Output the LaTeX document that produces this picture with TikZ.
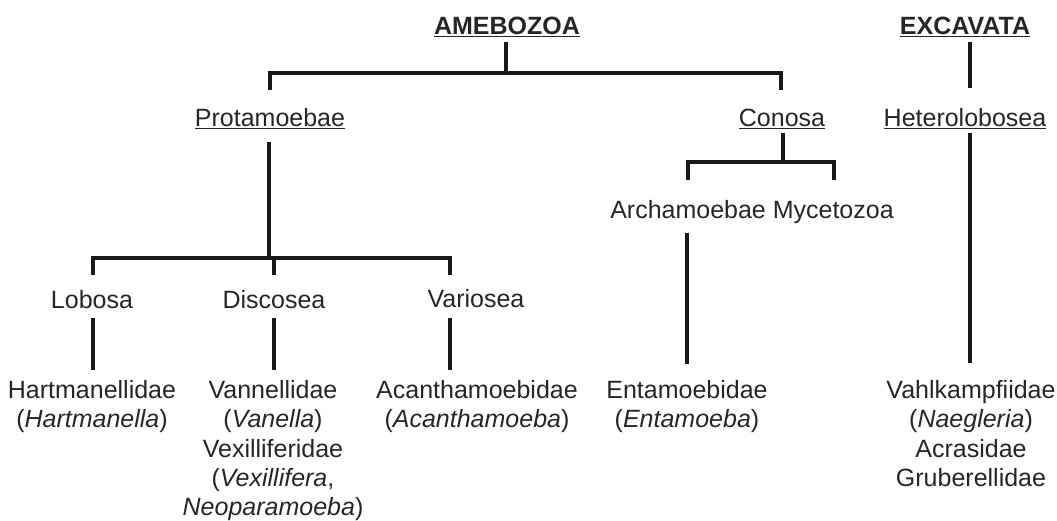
\documentclass[tikz,border=0pt]{standalone}
\usepackage{fontspec}
\setmainfont{Liberation Sans}
\begin{document}
\begin{tikzpicture}[x=0.75pt,y=-0.75pt,
  every node/.style={font=\fontsize{18.75}{22}\selectfont, text=black!85, inner sep=0pt},
  lbl/.style={anchor=base},
  leaf/.style={anchor=north, align=center},
  link/.style={draw=black!90, line width=2.6pt, line join=miter, line cap=butt}]
\useasboundingbox (0,0) rectangle (1057,521);
% labels
\node[lbl] (amebozoa) at (507,34.5) {\textbf{\underline{AMEBOZOA}}};
\node[lbl] (excavata) at (965,34.5) {\textbf{\underline{EXCAVATA}}};
\node[lbl] (protamoebae) at (270,126) {\underline{Protamoebae}};
\node[lbl] (conosa) at (782,126) {\underline{Conosa}};
\node[lbl] (hetero) at (965,126) {\underline{Heterolobosea}};
\node[lbl] (archmyc) at (752,218.5) {Archamoebae Mycetozoa};
\node[lbl] (lobosa) at (92,308) {Lobosa};
\node[lbl] (discosea) at (274,308) {Discosea};
\node[lbl] (variosea) at (476,307) {Variosea};
\node[leaf] (hartm) at (92,380) {Hartmanellidae\\(\textit{Hartmanella})};
\node[leaf] (vann) at (273,380) {Vannellidae\\(\textit{Vanella})\\Vexilliferidae\\(\textit{Vexillifera},\\\textit{Neoparamoeba})};
\node[leaf] (acanth) at (477,380) {Acanthamoebidae\\(\textit{Acanthamoeba})};
\node[leaf] (entam) at (687,380) {Entamoebidae\\(\textit{Entamoeba})};
\node[leaf] (vahlk) at (971,380) {Vahlkampfiidae\\(\textit{Naegleria})\\Acrasidae\\Gruberellidae};
% connector points
\coordinate (amS) at (506,42);
\coordinate (amJ) at (506,73);
\coordinate (protN) at (270,90);
\coordinate (conN) at (781,90);
\coordinate (exS) at (970,42);
\coordinate (hetN) at (970,88);
\coordinate (protS) at (269,142);
\coordinate (protJ) at (269,258);
\coordinate (lobN) at (93,275);
\coordinate (disJ) at (274,258);
\coordinate (disN) at (274,275);
\coordinate (varN) at (450,275);
\coordinate (lobS) at (93,318);
\coordinate (hartN) at (93,370);
\coordinate (disS) at (274,318);
\coordinate (vannN) at (274,370);
\coordinate (varS) at (450,318);
\coordinate (acanN) at (450,370);
\coordinate (conS) at (783,133);
\coordinate (conJ) at (783,162);
\coordinate (archN) at (688,180);
\coordinate (mycN) at (834,180);
\coordinate (archS) at (687,233);
\coordinate (entN) at (687,364);
\coordinate (hetS) at (970,133);
\coordinate (vahN) at (970,363);
% connectors
\draw[link] (amS) -- (amJ);
\draw[link] (protN) |- (amJ) -| (conN);
\draw[link] (exS) -- (hetN);
\draw[link] (protS) -- (protJ);
\draw[link] (lobN) |- (protJ) -| (varN);
\draw[link] (disJ) -- (disN);
\draw[link] (lobS) -- (hartN);
\draw[link] (disS) -- (vannN);
\draw[link] (varS) -- (acanN);
\draw[link] (conS) -- (conJ);
\draw[link] (archN) |- (conJ) -| (mycN);
\draw[link] (archS) -- (entN);
\draw[link] (hetS) -- (vahN);
\end{tikzpicture}
\end{document}
